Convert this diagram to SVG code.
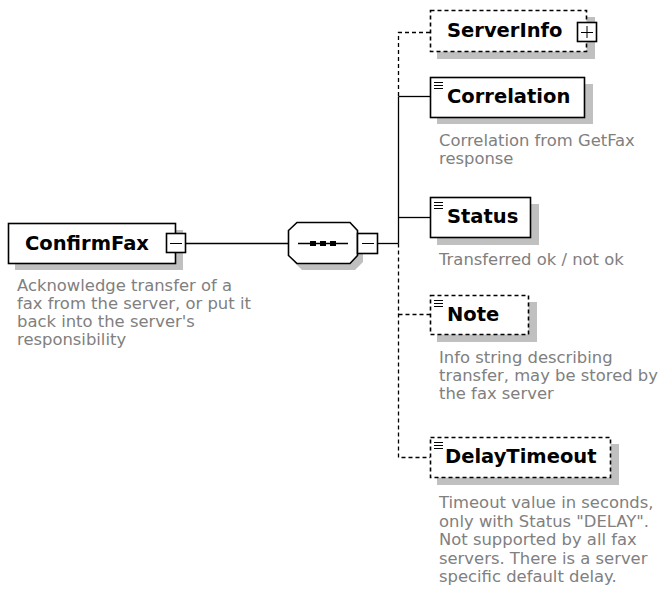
<svg xmlns="http://www.w3.org/2000/svg" width="662" height="599" viewBox="0 0 662 599">
<style>
.box{fill:#fff;stroke:#000;stroke-width:1.6}
.dash{stroke-dasharray:4,3}
.sh{fill:#c0c0c0}
.lbl{font-family:"DejaVu Sans",Verdana,sans-serif;font-weight:bold;font-size:19.5px;fill:#000}
.desc{font-family:"DejaVu Sans",Verdana,sans-serif;font-size:16.4px;fill:#808080}
.ln{stroke:#000;stroke-width:1.3;fill:none}
.ic{stroke:#000;stroke-width:1;fill:none}
</style>
<rect width="662" height="599" fill="#fff"/>
<g id="connectors">
<line class="ln" x1="185.5" y1="243.5" x2="289" y2="243.5"/>
<line class="ln" x1="377.5" y1="243.5" x2="398.5" y2="243.5"/>
<line class="ln" x1="398.5" y1="96.5" x2="398.5" y2="243.5"/>
<path class="ln dash" d="M430 32.5H398.5V96.5"/>
<path class="ln dash" d="M398.5 243.5V457.5H430"/>
<line class="ln dash" x1="398.5" y1="314.5" x2="430" y2="314.5"/>
<line class="ln" x1="398.5" y1="96.5" x2="430" y2="96.5"/>
<line class="ln" x1="398.5" y1="217.5" x2="430" y2="217.5"/>
</g>
<g id="ConfirmFax">
<rect class="sh" x="15" y="230" width="168" height="40"/>
<rect class="box" x="8.5" y="223.5" width="167" height="40"/>
<text class="lbl" x="25" y="250">ConfirmFax</text>
<rect class="box" x="166.5" y="233.5" width="19" height="19"/>
<line class="ic" x1="170" y1="243.5" x2="182" y2="243.5"/>
<text class="desc" x="17" y="291">Acknowledge transfer of a</text>
<text class="desc" x="17" y="309">fax from the server, or put it</text>
<text class="desc" x="17" y="327">back into the server's</text>
<text class="desc" x="17" y="345">responsibility</text>
</g>
<g id="sequence">
<polygon class="sh" points="302,230 355,230 363,238 363,262 355,270 302,270 294,262 294,238"/>
<polygon class="box" points="297,222.5 350,222.5 357.5,230.5 357.5,255.5 350,263.5 297,263.5 288.5,255.5 288.5,230.5"/>
<line class="ln" x1="298" y1="243.5" x2="348" y2="243.5"/>
<rect x="310" y="241" width="6" height="5" fill="#000"/>
<rect x="320" y="241" width="6" height="5" fill="#000"/>
<rect x="330" y="241" width="6" height="5" fill="#000"/>
<rect class="box" x="357.5" y="233.5" width="20" height="20"/>
<line class="ic" x1="362" y1="243.5" x2="374" y2="243.5"/>
</g>
<g id="ServerInfo">
<rect class="sh" x="437" y="17" width="158" height="42"/>
<rect class="box dash" x="430.5" y="10.5" width="156" height="41"/>
<text class="lbl" x="447" y="37">ServerInfo</text>
<rect class="box" x="577.5" y="22.5" width="19" height="19"/>
<line class="ic" x1="581" y1="32.5" x2="593" y2="32.5"/>
<line class="ic" x1="587" y1="26" x2="587" y2="38"/>
</g>
<g id="Correlation">
<rect class="sh" x="437" y="84" width="156" height="40"/>
<rect class="box" x="430.5" y="77.5" width="154" height="40"/>
<path class="ic" d="M434 82.5h9M434 85.5h9M434 88.5h9"/>
<text class="lbl" x="447" y="103">Correlation</text>
<text class="desc" x="439" y="146">Correlation from GetFax</text>
<text class="desc" x="439" y="164">response</text>
</g>
<g id="Status">
<rect class="sh" x="437" y="204" width="102" height="41"/>
<rect class="box" x="430.5" y="197.5" width="100" height="40"/>
<path class="ic" d="M434 202.5h9M434 205.5h9M434 208.5h9"/>
<text class="lbl" x="447" y="223">Status</text>
<text class="desc" x="439" y="265">Transferred ok / not ok</text>
</g>
<g id="Note">
<rect class="sh" x="437" y="302" width="100" height="40"/>
<rect class="box dash" x="430.5" y="295.5" width="98" height="39"/>
<path class="ic" d="M434 300.5h9M434 303.5h9M434 306.5h9"/>
<text class="lbl" x="447" y="321">Note</text>
<text class="desc" x="439" y="363">Info string describing</text>
<text class="desc" x="439" y="381">transfer, may be stored by</text>
<text class="desc" x="439" y="399">the fax server</text>
</g>
<g id="DelayTimeout">
<rect class="sh" x="437" y="444" width="182" height="41"/>
<rect class="box dash" x="430.5" y="437.5" width="180" height="40"/>
<path class="ic" d="M434 442.5h9M434 445.5h9M434 448.5h9"/>
<text class="lbl" x="445" y="463">DelayTimeout</text>
<text class="desc" x="439" y="508">Timeout value in seconds,</text>
<text class="desc" x="439" y="526.5">only with Status "DELAY".</text>
<text class="desc" x="439" y="545">Not supported by all fax</text>
<text class="desc" x="439" y="563.5">servers. There is a server</text>
<text class="desc" x="439" y="582">specific default delay.</text>
</g>
</svg>
